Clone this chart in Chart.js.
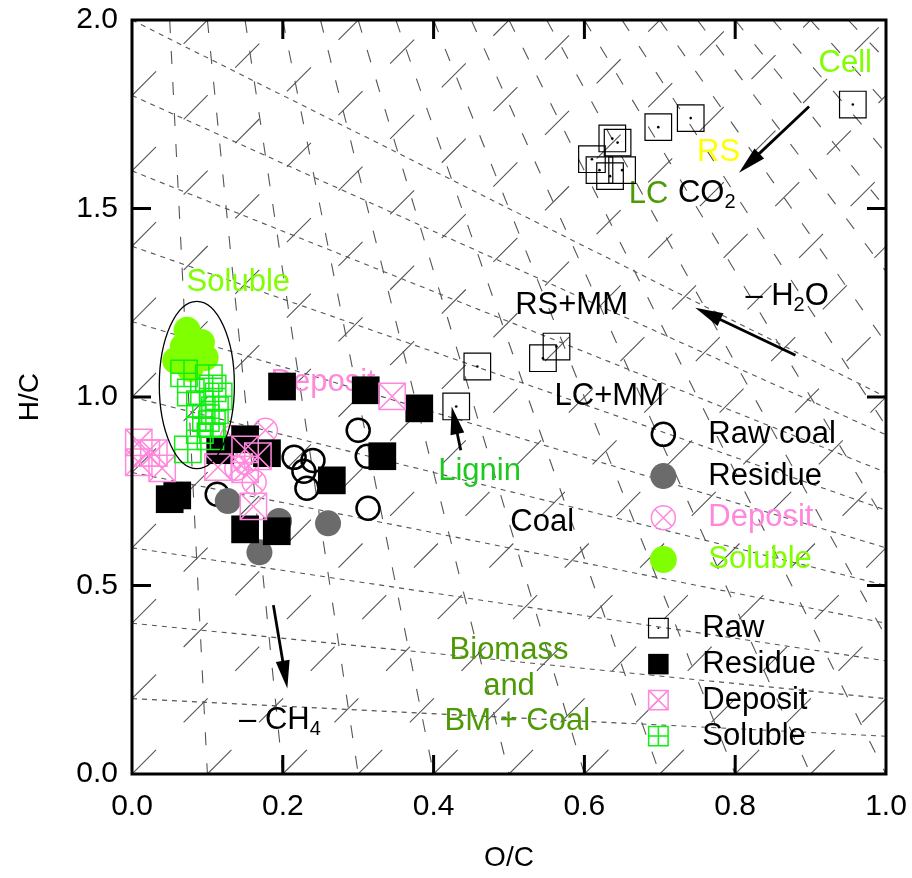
<!DOCTYPE html>
<html>
<head>
<meta charset="utf-8">
<title>Van Krevelen diagram</title>
<script src="https://cdn.jsdelivr.net/npm/chart.js@4/dist/chart.umd.min.js"></script>
<style>
  html, body { margin: 0; padding: 0; background: #fff; }
</style>
</head>
<body>
<canvas id="vk" width="912" height="878"></canvas>
<script>
const FONT = "'Liberation Sans', Arial, Helvetica, sans-serif";
const PINK = '#ff88dd';
const LIME = '#80ff00';
const GREEN = '#11ee11';
const GRAY = '#6b6b6b';
const OLIVE = '#4e9a06';

// ---- coal samples (O/C, H/C) ----
const rawCoalOC = [0.113, 0.215, 0.240, 0.228, 0.232, 0.300, 0.312, 0.313];
const rawCoalHC = [0.742, 0.840, 0.832, 0.803, 0.758, 0.912, 0.843, 0.705];
const residueCoalOC = [0.127, 0.195, 0.260, 0.169];
const residueCoalHC = [0.724, 0.671, 0.665, 0.588];
const depositCoalOC = [0.177, 0.150, 0.162, 0.139, 0.133];
const depositCoalHC = [0.912, 0.827, 0.774, 0.811, 0.893];
const solubleCoalOC = [0.073, 0.092, 0.097, 0.058, 0.077, 0.068];
const solubleCoalHC = [1.177, 1.145, 1.105, 1.097, 1.076, 1.134];

// ---- biomass samples (O/C, H/C) ----
const rawBioOC = [0.956, 0.741, 0.698, 0.637, 0.644, 0.610, 0.620, 0.634, 0.650, 0.458, 0.430, 0.545, 0.563];
const rawBioHC = [1.776, 1.740, 1.716, 1.686, 1.675, 1.631, 1.602, 1.586, 1.602, 1.081, 0.975, 1.103, 1.134];
const residueBioOC = [0.199, 0.310, 0.381, 0.150, 0.117, 0.179, 0.332, 0.265, 0.050, 0.060, 0.150, 0.192];
const residueBioHC = [1.028, 1.018, 0.970, 0.888, 0.859, 0.851, 0.843, 0.779, 0.729, 0.739, 0.649, 0.644];
const depositBioOC = [0.009, 0.019, 0.029, 0.040, 0.009, 0.150, 0.167, 0.114, 0.150, 0.161, 0.345];
const depositBioHC = [0.880, 0.851, 0.851, 0.811, 0.827, 0.861, 0.843, 0.814, 0.808, 0.710, 1.002];
const solubleBioOC = [0.069, 0.102, 0.107, 0.078, 0.115, 0.090, 0.110, 0.098, 0.106, 0.090, 0.104, 0.074];
const solubleBioHC = [1.063, 1.050, 1.023, 1.012, 1.002, 0.981, 0.965, 0.944, 0.928, 0.912, 0.896, 0.861];

// ---- guide lines ----
// decarboxylation lines: start at H/C on the O/C = 0 axis, all meet at CO2 (2, 0)
const co2LineStartHC = [0.2, 0.4, 0.6, 0.8, 1.0, 1.2, 1.4, 1.6, 1.8, 2.0];
// demethanation lines: end at O/C on the H/C = 0 axis, all meet at CH4 (0, 4)
const ch4LineEndOC = [0.1, 0.2, 0.3, 0.4, 0.5, 0.6, 0.7, 0.8, 0.9, 1.0,
                      1.1, 1.2, 1.3, 1.4, 1.5, 1.6, 1.7, 1.8, 1.9];
// dehydration lines: H/C = 2 O/C + c
const h2oLineOffset = [-1.8, -1.6, -1.4, -1.2, -1.0, -0.8, -0.6, -0.4, -0.2, 0,
                       0.2, 0.4, 0.6, 0.8, 1.0, 1.2, 1.4, 1.6, 1.8];

// ---- axis ticks ----
const xTicks = [0, 0.2, 0.4, 0.6, 0.8, 1.0];
const yTicks = [0, 0.5, 1.0, 1.5, 2.0];

// ---- annotations (data coordinates) ----
const labels = [
  { text: 'Cell', oc: 0.946, hc: 1.884, color: LIME },
  { text: 'RS', oc: 0.778, hc: 1.649, color: '#ffff00' },
  { text: 'LC', oc: 0.685, hc: 1.538, color: OLIVE },
  { text: 'CO', sub: '2', oc: 0.724, hc: 1.540, color: '#000' },
  { text: 'RS+MM', oc: 0.583, hc: 1.243, color: '#000' },
  { text: '\u2013 H', sub: '2', tail: 'O', oc: 0.8135, hc: 1.267, color: '#000' },
  { text: 'LC+MM', oc: 0.633, hc: 1.002, color: '#000' },
  { text: 'Lignin', oc: 0.461, hc: 0.803, color: '#1ec81e' },
  { text: 'Coal', oc: 0.544, hc: 0.668, color: '#000' },
  { text: 'Biomass', oc: 0.500, hc: 0.329, color: OLIVE },
  { text: 'and', oc: 0.500, hc: 0.233, color: OLIVE },
  { text: 'BM + Coal', oc: 0.511, hc: 0.140, color: OLIVE },
  { text: '\u2013 CH', sub: '4', oc: 0.142, hc: 0.142, color: '#000' },
  { text: 'Soluble', oc: 0.141, hc: 1.304, color: LIME },
  { text: 'Deposit', oc: 0.2535, hc: 1.039, color: PINK },
];
const arrowFromOC = [0.898, 0.880, 0.436, 0.1875];
const arrowFromHC = [1.771, 1.111, 0.859, 0.448];
const arrowToOC = [0.805, 0.747, 0.424, 0.206];
const arrowToHC = [1.595, 1.237, 0.975, 0.227];
const solubleRing = { oc: 0.086, hc: 1.032, rOC: 0.0498, rHC: 0.222 };

// marker look of every series, drawn as stacked point layers
const seriesLayers = {
  rawCoal: [{ pointStyle: 'circle', radius: 11.5, borderWidth: 2.5, borderColor: '#000', backgroundColor: 'transparent' }],
  residueCoal: [{ pointStyle: 'circle', radius: 13, borderWidth: 0, borderColor: GRAY, backgroundColor: GRAY }],
  depositCoal: [
    { pointStyle: 'circle', radius: 12, borderWidth: 1.5, borderColor: PINK, backgroundColor: 'transparent' },
    { pointStyle: 'crossRot', radius: 12, borderWidth: 1.5, borderColor: PINK, backgroundColor: 'transparent' },
  ],
  solubleCoal: [{ pointStyle: 'circle', radius: 13.5, borderWidth: 0, borderColor: LIME, backgroundColor: LIME }],
  rawBio: [
    { pointStyle: 'rect', radius: 18.8, borderWidth: 1.2, borderColor: '#000', backgroundColor: 'transparent' },
    { pointStyle: 'circle', radius: 1.3, borderWidth: 0, borderColor: '#000', backgroundColor: '#000' },
  ],
  residueBio: [{ pointStyle: 'rect', radius: 19.6, borderWidth: 0, borderColor: '#000', backgroundColor: '#000' }],
  depositBio: [
    { pointStyle: 'rect', radius: 18.6, borderWidth: 1.5, borderColor: PINK, backgroundColor: 'transparent' },
    { pointStyle: 'crossRot', radius: 18.6, borderWidth: 1.5, borderColor: PINK, backgroundColor: 'transparent' },
  ],
  solubleBio: [
    { pointStyle: 'rect', radius: 18.6, borderWidth: 1.5, borderColor: GREEN, backgroundColor: 'transparent' },
    { pointStyle: 'cross', radius: 13.15, borderWidth: 1.5, borderColor: GREEN, backgroundColor: 'transparent' },
  ],
};

const series = [
  ['rawCoal', rawCoalOC, rawCoalHC],
  ['residueCoal', residueCoalOC, residueCoalHC],
  ['depositCoal', depositCoalOC, depositCoalHC],
  ['solubleCoal', solubleCoalOC, solubleCoalHC],
  ['rawBio', rawBioOC, rawBioHC],
  ['residueBio', residueBioOC, residueBioHC],
  ['depositBio', depositBioOC, depositBioHC],
  ['solubleBio', solubleBioOC, solubleBioHC],
];

const legendCoal = [
  { key: 'rawCoal', label: 'Raw coal', color: '#000' },
  { key: 'residueCoal', label: 'Residue', color: '#000' },
  { key: 'depositCoal', label: 'Deposit', color: PINK },
  { key: 'solubleCoal', label: 'Soluble', color: LIME },
];
const legendBio = [
  { key: 'rawBio', label: 'Raw', color: '#000' },
  { key: 'residueBio', label: 'Residue', color: '#000' },
  { key: 'depositBio', label: 'Deposit', color: '#000' },
  { key: 'solubleBio', label: 'Soluble', color: '#000' },
];

// cut an infinite line (through two points) to the plot box, keeping its direction
function clipToBox(x0, y0, x1, y1) {
  const dx = x1 - x0, dy = y1 - y0;
  let t0 = -Infinity, t1 = Infinity;
  const sides = [[-dx, x0], [dx, 1 - x0], [-dy, y0], [dy, 2 - y0]];
  for (const [p, q] of sides) {
    if (p === 0) {
      if (q < 0) return null;
      continue;
    }
    const r = q / p;
    if (p < 0) t0 = Math.max(t0, r);
    else t1 = Math.min(t1, r);
  }
  if (t1 - t0 < 1e-6) return null;
  return [{ x: x0 + t0 * dx, y: y0 + t0 * dy }, { x: x0 + t1 * dx, y: y0 + t1 * dy }];
}

function guideSet(seg, dash) {
  return {
    data: seg,
    showLine: true,
    borderColor: '#555555',
    borderWidth: 1.1,
    borderDash: dash,
    pointRadius: 0,
    order: 100,
  };
}

const datasets = [];
co2LineStartHC.forEach((h) => {
  const seg = clipToBox(0, h, 2, 0);
  if (seg) datasets.push(guideSet(seg, [5, 5]));
});
ch4LineEndOC.forEach((o) => {
  const seg = clipToBox(0, 4, o, 0);
  if (seg) datasets.push(guideSet(seg, [13, 18]));
});
h2oLineOffset.forEach((c) => {
  const seg = clipToBox(0, c, 1, 2 + c);
  if (seg) datasets.push(guideSet(seg, [34, 39]));
});

let layerOrder = 60;
series.forEach(([key, oc, hc], si) => {
  seriesLayers[key].forEach((layer, li) => {
    datasets.push({
      label: key,
      firstMarker: si === 0 && li === 0,
      data: oc.map((v, i) => ({ x: v, y: hc[i] })),
      showLine: false,
      pointStyle: layer.pointStyle,
      pointRadius: layer.radius,
      pointBorderWidth: layer.borderWidth,
      pointBorderColor: layer.borderColor,
      pointBackgroundColor: layer.backgroundColor,
      clip: false,
      order: layerOrder--,
    });
  });
});

function drawLabel(ctx, chart, lab) {
  const x = chart.scales.x.getPixelForValue(lab.oc);
  const y = chart.scales.y.getPixelForValue(lab.hc);
  ctx.fillStyle = lab.color;
  ctx.textBaseline = 'middle';
  ctx.font = `31px ${FONT}`;
  if (!lab.sub) {
    ctx.textAlign = 'center';
    ctx.fillText(lab.text, x, y);
    return;
  }
  ctx.textAlign = 'left';
  ctx.fillText(lab.text, x, y);
  let w = ctx.measureText(lab.text).width;
  ctx.font = `20px ${FONT}`;
  ctx.fillText(lab.sub, x + w, y + 9);
  w += ctx.measureText(lab.sub).width;
  if (lab.tail) {
    ctx.font = `31px ${FONT}`;
    ctx.fillText(lab.tail, x + w, y);
  }
}

function drawArrow(ctx, x0, y0, x1, y1) {
  const ang = Math.atan2(y1 - y0, x1 - x0);
  const head = 28, half = 7;
  ctx.strokeStyle = '#000';
  ctx.fillStyle = '#000';
  ctx.lineWidth = 2.8;
  ctx.beginPath();
  ctx.moveTo(x0, y0);
  ctx.lineTo(x1 - Math.cos(ang) * head * 0.8, y1 - Math.sin(ang) * head * 0.8);
  ctx.stroke();
  ctx.beginPath();
  ctx.moveTo(x1, y1);
  ctx.lineTo(x1 - Math.cos(ang) * head - Math.sin(ang) * half, y1 - Math.sin(ang) * head + Math.cos(ang) * half);
  ctx.lineTo(x1 - Math.cos(ang) * head + Math.sin(ang) * half, y1 - Math.sin(ang) * head - Math.cos(ang) * half);
  ctx.closePath();
  ctx.fill();
}

function drawMarker(ctx, key, x, y, scale) {
  seriesLayers[key].forEach((layer) => {
    ctx.save();
    ctx.strokeStyle = layer.borderColor;
    ctx.fillStyle = layer.backgroundColor;
    ctx.lineWidth = layer.borderWidth;
    Chart.helpers.drawPoint(ctx, {
      pointStyle: layer.pointStyle,
      radius: layer.radius * scale,
      rotation: 0,
      borderWidth: layer.borderWidth,
    }, x, y);
    ctx.restore();
  });
}

function drawLegend(ctx, chart, items, oc, hc, step, scale, textGap) {
  const x = chart.scales.x.getPixelForValue(oc);
  const y0 = chart.scales.y.getPixelForValue(hc);
  items.forEach((it, i) => {
    const y = y0 + i * step;
    drawMarker(ctx, it.key, x, y, scale);
    ctx.fillStyle = it.color;
    ctx.font = `31px ${FONT}`;
    ctx.textAlign = 'left';
    ctx.textBaseline = 'middle';
    ctx.fillText(it.label, x + textGap, y);
  });
}

function drawFrame(chart) {
  const ctx = chart.ctx;
  const a = chart.chartArea;
  const sx = chart.scales.x;
  const sy = chart.scales.y;
  ctx.save();
  ctx.setLineDash([]);
  ctx.strokeStyle = '#000';
  ctx.lineWidth = 3;
  ctx.beginPath();
  ctx.rect(a.left, a.top, a.right - a.left, a.bottom - a.top);
  const tl = 19;
  xTicks.forEach((v) => {
    const px = sx.getPixelForValue(v);
    ctx.moveTo(px, a.bottom); ctx.lineTo(px, a.bottom - tl);
    ctx.moveTo(px, a.top); ctx.lineTo(px, a.top + tl);
  });
  yTicks.forEach((v) => {
    const py = sy.getPixelForValue(v);
    ctx.moveTo(a.left, py); ctx.lineTo(a.left + tl, py);
    ctx.moveTo(a.right, py); ctx.lineTo(a.right - tl, py);
  });
  ctx.stroke();
  ctx.restore();
}

const decorPlugin = {
  id: 'vkDecor',
  beforeDatasetDraw(chart, args) {
    if (!chart.data.datasets[args.index].firstMarker) return;
    const ctx = chart.ctx;
    ctx.save();
    labels.forEach((lab) => drawLabel(ctx, chart, lab));
    ctx.restore();
  },
  afterDatasetsDraw(chart) {
    const { ctx, scales: { x, y } } = chart;
    ctx.save();
    ctx.setLineDash([]);
    // ellipse round the soluble group
    ctx.strokeStyle = '#000';
    ctx.lineWidth = 1.3;
    ctx.beginPath();
    const cx = x.getPixelForValue(solubleRing.oc);
    const cy = y.getPixelForValue(solubleRing.hc);
    const rx = x.getPixelForValue(solubleRing.oc + solubleRing.rOC) - cx;
    const ry = cy - y.getPixelForValue(solubleRing.hc + solubleRing.rHC);
    ctx.ellipse(cx, cy, rx, ry, 0, 0, Math.PI * 2);
    ctx.stroke();

    arrowFromOC.forEach((o, i) => {
      drawArrow(ctx, x.getPixelForValue(o), y.getPixelForValue(arrowFromHC[i]),
        x.getPixelForValue(arrowToOC[i]), y.getPixelForValue(arrowToHC[i]));
    });

    drawLegend(ctx, chart, legendCoal, 0.7047, 0.901, 41.7, 1, 45);
    drawLegend(ctx, chart, legendBio, 0.6981, 0.387, 36, 0.74, 44);
    ctx.restore();
  },
  afterDraw(chart) {
    drawFrame(chart);
  },
};

// keep the plot box fixed: drop the extra room Chart.js keeps for tick labels
function fixBox(size, isX) {
  return (scale) => {
    if (isX) scale.height = size;
    else scale.width = size;
    scale.paddingTop = 0;
    scale.paddingBottom = 0;
    scale.paddingLeft = 0;
    scale.paddingRight = 0;
  };
}

new Chart(document.getElementById('vk'), {
  type: 'scatter',
  data: { datasets },
  plugins: [decorPlugin],
  options: {
    responsive: false,
    animation: false,
    events: [],
    layout: { padding: { top: 19, right: 26, left: 0, bottom: 0 } },
    plugins: {
      legend: { display: false },
      tooltip: { enabled: false },
    },
    scales: {
      x: {
        type: 'linear',
        min: 0,
        max: 1,
        afterFit: fixBox(104, true),
        afterBuildTicks: (scale) => { scale.ticks = xTicks.map((v) => ({ value: v })); },
        grid: { display: false, drawTicks: false },
        border: { display: false },
        ticks: {
          autoSkip: false,
          maxRotation: 0,
          padding: 15,
          color: '#000',
          font: { family: FONT, size: 30 },
          callback: (v) => Number(v).toFixed(1),
        },
        title: {
          display: true,
          text: 'O/C',
          color: '#000',
          font: { family: FONT, size: 28 },
          padding: { top: 0, bottom: 3 },
        },
      },
      y: {
        type: 'linear',
        min: 0,
        max: 2,
        afterFit: fixBox(132, false),
        afterBuildTicks: (scale) => { scale.ticks = yTicks.map((v) => ({ value: v })); },
        grid: { display: false, drawTicks: false },
        border: { display: false },
        ticks: {
          autoSkip: false,
          padding: 14,
          color: '#000',
          font: { family: FONT, size: 30 },
          callback: (v) => Number(v).toFixed(1),
        },
        title: {
          display: true,
          text: 'H/C',
          color: '#000',
          font: { family: FONT, size: 28 },
          padding: { top: 13, bottom: 0 },
        },
      },
    },
  },
});
</script>
</body>
</html>
